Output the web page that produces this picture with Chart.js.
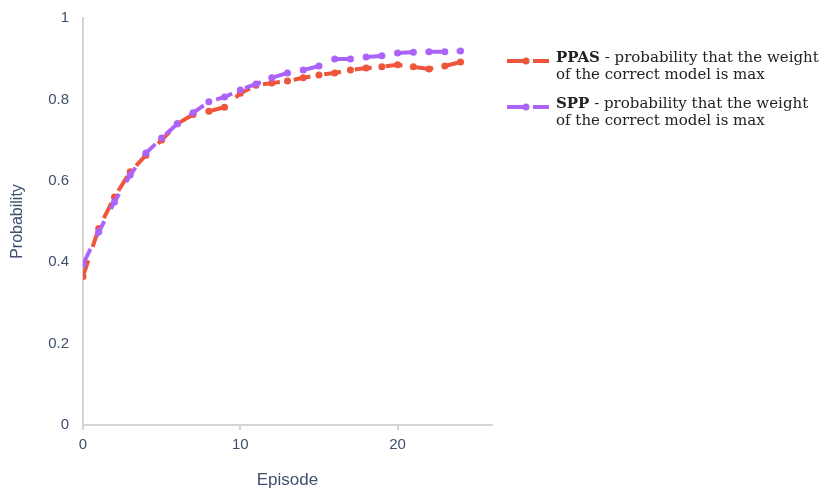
<!DOCTYPE html>
<html>
<head>
<meta charset="utf-8">
<script src="https://cdn.jsdelivr.net/npm/chart.js@4.4.0/dist/chart.umd.min.js"></script>
<style>
  body { margin: 0; background: #fff; }
  #wrap { width: 826px; height: 493px; position: relative; }
</style>
</head>
<body>
<div id="wrap"><canvas id="myChart"></canvas></div>
<script>
// data
const episodes = [0, 1, 2, 3, 4, 5, 6, 7, 8, 9, 10, 11, 12, 13, 14, 15, 16, 17, 18, 19, 20, 21, 22, 23, 24];
const ppas = [0.365, 0.483, 0.56, 0.622, 0.663, 0.70, 0.74, 0.763, 0.771, 0.781, 0.815, 0.835, 0.84, 0.845, 0.853, 0.86, 0.865, 0.872, 0.877, 0.88, 0.885, 0.88, 0.875, 0.882, 0.892];
const spp = [0.395, 0.474, 0.548, 0.614, 0.668, 0.705, 0.74, 0.767, 0.794, 0.806, 0.823, 0.838, 0.853, 0.865, 0.872, 0.882, 0.899, 0.899, 0.904, 0.907, 0.914, 0.916, 0.917, 0.917, 0.919];
const seriesNames = ['PPAS', 'SPP'];
const seriesNote = [' - probability that the weight', 'of the correct model is max'];
const yTicks = [0, 0.2, 0.4, 0.6, 0.8, 1];
const xTicks = [0, 10, 20];

const tickColor = '#3f4f6e';
const axisColor = '#d4d4d4';
const sans = '"Liberation Sans", Arial, sans-serif';
const dash = [17, 14];

function toPoints(arr) {
    return episodes.map((e, i) => ({ x: e, y: arr[i] }));
}

// legend drawn by hand: bold name + note on two lines
const sideLegend = {
    id: 'sideLegend',
    afterDraw(chart) {
        const ctx = chart.ctx;
        [0, 1].forEach((i) => {
            const ds = chart.data.datasets[i];
            const y = 61 + i * 46;
            ctx.save();
            ctx.strokeStyle = ds.borderColor;
            ctx.lineWidth = 4;
            ctx.setLineDash([16, 10]);
            ctx.beginPath();
            ctx.moveTo(507, y);
            ctx.lineTo(549, y);
            ctx.stroke();
            ctx.setLineDash([]);
            ctx.fillStyle = ds.borderColor;
            ctx.beginPath();
            ctx.arc(526, y, 3.5, 0, Math.PI * 2);
            ctx.fill();

            ctx.fillStyle = '#222';
            ctx.textBaseline = 'middle';
            ctx.textAlign = 'left';
            ctx.font = 'bold 15px "DejaVu Serif"';
            ctx.fillText(seriesNames[i], 556, y - 3);
            const w = ctx.measureText(seriesNames[i]).width;
            ctx.font = '15px "DejaVu Serif"';
            ctx.fillText(seriesNote[0], 556 + w, y - 3);
            ctx.fillText(seriesNote[1], 556, y + 14);
            ctx.restore();
        });
    }
};

const ctx = document.getElementById('myChart').getContext('2d');
const myChart = new Chart(ctx, {
    type: 'line',
    data: {
        datasets: [{
            label: seriesNames[0],
            data: toPoints(ppas),
            borderColor: '#EF553B',
            backgroundColor: '#EF553B',
            borderWidth: 4,
            borderDash: dash,
            pointRadius: 3.5,
            pointBorderWidth: 0,
            tension: 0,
            order: 1
        }, {
            label: seriesNames[1],
            data: toPoints(spp),
            borderColor: '#AB63FA',
            backgroundColor: '#AB63FA',
            borderWidth: 4,
            borderDash: dash,
            pointRadius: 3.5,
            pointBorderWidth: 0,
            tension: 0,
            order: 0
        }]
    },
    options: {
        responsive: true,
        maintainAspectRatio: false,
        animation: false,
        layout: { padding: { top: 18, right: 334, left: 0, bottom: 0 } },
        plugins: {
            legend: { display: false },
            tooltip: { enabled: false }
        },
        scales: {
            x: {
                type: 'linear',
                min: 0,
                max: 26,
                afterFit: (s) => { s.height = 68; },
                afterBuildTicks: (s) => { s.ticks = xTicks.map(v => ({ value: v })); },
                ticks: {
                    color: tickColor,
                    font: { family: sans, size: 15 },
                    padding: 6,
                    maxRotation: 0,
                    callback: (v) => String(v)
                },
                grid: { display: true, drawOnChartArea: false, tickLength: 5, color: axisColor, lineWidth: 2 },
                border: { display: true, color: axisColor, width: 2 },
                title: {
                    display: true,
                    text: 'Episode',
                    color: tickColor,
                    font: { family: sans, size: 17 },
                    padding: { top: 0, bottom: 2 }
                }
            },
            y: {
                type: 'linear',
                min: 0,
                max: 1,
                afterFit: (s) => { s.width = 83; },
                afterBuildTicks: (s) => { s.ticks = yTicks.map(v => ({ value: v })); },
                ticks: {
                    color: tickColor,
                    font: { family: sans, size: 15 },
                    padding: 6,
                    callback: (v) => String(v)
                },
                grid: { display: false },
                border: { display: true, color: axisColor, width: 2 },
                title: {
                    display: true,
                    text: 'Probability',
                    color: tickColor,
                    font: { family: sans, size: 16 },
                    padding: 8
                }
            }
        }
    },
    plugins: [sideLegend]
});
</script>
</body>
</html>
